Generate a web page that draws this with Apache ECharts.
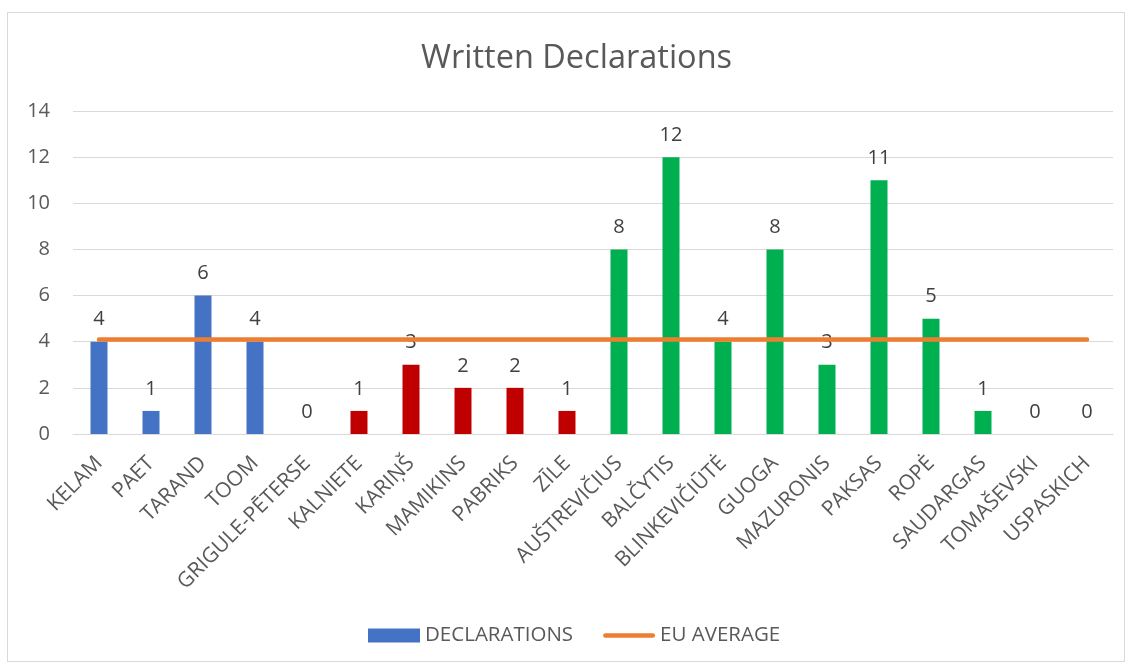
<!DOCTYPE html>
<html>
<head>
<meta charset="utf-8">
<script src="https://cdn.jsdelivr.net/npm/echarts@6/dist/echarts.min.js"></script>
<style>
  html, body { margin: 0; padding: 0; background: #fff; }
  #chart { position: absolute; left: 0; top: 0; width: 1130px; height: 666px; }
  #frame { position: absolute; left: 7px; top: 12px; width: 1118px; height: 650px; border: 1px solid #D9D9D9; box-sizing: border-box; pointer-events: none; }
</style>
</head>
<body>
<div id="chart"></div>
<div id="frame"></div>
<script>
const categories = ['KELAM','PAET','TARAND','TOOM','GRIGULE-PĒTERSE','KALNIETE','KARIŅŠ','MAMIKINS','PABRIKS','ZĪLE','AUŠTREVIČIUS','BALČYTIS','BLINKEVIČIŪTĖ','GUOGA','MAZURONIS','PAKSAS','ROPĖ','SAUDARGAS','TOMAŠEVSKI','USPASKICH'];
const declarations = [4,1,6,4,0,1,3,2,2,1,8,12,4,8,3,11,5,1,0,0];
const countries = ['EE','EE','EE','EE','LV','LV','LV','LV','LV','LV','LT','LT','LT','LT','LT','LT','LT','LT','LT','LT'];
const euAverage = [4.1,4.1,4.1,4.1,4.1,4.1,4.1,4.1,4.1,4.1,4.1,4.1,4.1,4.1,4.1,4.1,4.1,4.1,4.1,4.1];
const yTicks = [0,2,4,6,8,10,12,14];

const countryColor = { EE: '#4472C4', LV: '#C00000', LT: '#00B050' };
const font = 'Open Sans';

const chart = echarts.init(document.getElementById('chart'), null, { renderer: 'canvas' });
chart.setOption({
  animation: false,
  backgroundColor: '#fff',
  title: {
    text: 'Written Declarations',
    left: 416,
    top: 37,
    textStyle: { fontFamily: font, fontSize: 32.5, fontWeight: 'normal', color: '#595959' }
  },
  grid: { left: 73, right: 17, top: 111, bottom: 232, containLabel: false },
  legend: {
    bottom: 15,
    left: 363,
    itemWidth: 52,
    itemHeight: 14,
    itemGap: 30,
    textStyle: { fontFamily: font, fontSize: 20.5, color: '#595959' },
    data: [
      { name: 'DECLARATIONS', icon: 'rect' },
      { name: 'EU AVERAGE', icon: 'path://M2.5,0 L53.5,0 A2.5,2.5 0 0 1 53.5,5 L2.5,5 A2.5,2.5 0 0 1 2.5,0 Z' }
    ]
  },
  xAxis: {
    type: 'category',
    data: categories,
    axisTick: { show: false },
    axisLine: { lineStyle: { color: '#D9D9D9', width: 1 } },
    axisLabel: {
      rotate: 45,
      interval: 0,
      margin: 26,
      fontFamily: font,
      fontSize: 21,
      color: '#595959'
    }
  },
  yAxis: {
    type: 'value',
    min: yTicks[0],
    max: yTicks[yTicks.length - 1],
    interval: 2,
    axisLine: { show: false },
    axisTick: { show: false },
    splitLine: { lineStyle: { color: '#D9D9D9', width: 1 } },
    axisLabel: { fontFamily: font, fontSize: 20, color: '#595959', margin: 23 }
  },
  series: [
    {
      name: 'DECLARATIONS',
      type: 'bar',
      barWidth: 17,
      itemStyle: { color: '#4472C4' },
      data: declarations.map((v, i) => ({ value: v, itemStyle: { color: countryColor[countries[i]] } })),
      label: {
        show: true,
        position: 'top',
        distance: 12,
        fontFamily: font,
        fontSize: 20,
        color: '#404040'
      },
      z: 2
    },
    {
      name: 'EU AVERAGE',
      type: 'line',
      data: euAverage,
      symbol: 'none',
      lineStyle: { color: '#ED7D31', width: 4.5, cap: 'round' },
      itemStyle: { color: '#ED7D31' },
      z: 3
    }
  ]
});
</script>
</body>
</html>
